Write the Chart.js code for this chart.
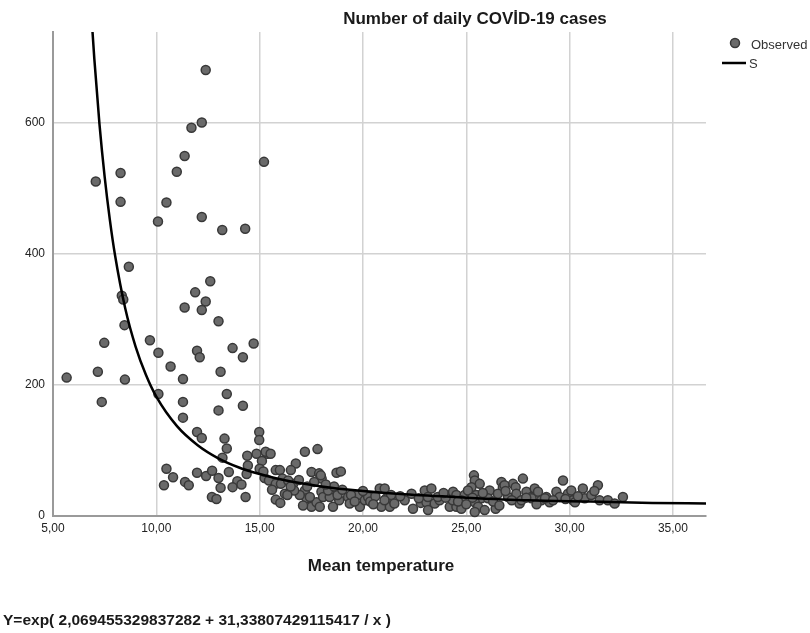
<!DOCTYPE html>
<html><head><meta charset="utf-8">
<script src="https://cdn.jsdelivr.net/npm/chart.js@4.4.0/dist/chart.umd.min.js"></script>
<style>html,body{margin:0;padding:0;background:#fff;overflow:hidden}#wrap{width:810px;height:633px;position:relative}</style>
</head><body><div id="wrap"><canvas id="c" width="810" height="633"></canvas></div>
<script>
const chartTitle = 'Number of daily COVİD-19 cases';
const xAxisTitle = 'Mean temperature';
const equationText = 'Y=exp( 2,069455329837282 + 31,33807429115417 / x )';
const legendLabels = ['Observed', 'S'];
const xTickValues = [5, 10, 15, 20, 25, 30, 35];
const yTickValues = [0, 200, 400, 600];

const obsTemp = [
 12.39,12.20,11.70,11.37,10.99,15.21,8.27,7.07,8.27,10.49,10.08,12.20,13.19,14.30,8.67,12.61,11.88,12.39,12.20,11.37,
 8.33,8.40,8.46,13.01,7.48,9.69,10.10,11.97,12.10,13.69,14.71,14.19,10.69,13.11,5.66,7.17,8.48,11.29,7.36,10.10,
 11.29,13.41,13.01,14.19,11.29,11.97,12.20,13.30,13.41,14.98,14.98,13.20,14.40,14.85,15.37,15.11,14.43,15.00,10.49,10.81,
 10.37,11.39,11.57,11.97,12.41,12.70,13.01,13.11,12.69,12.91,13.51,13.92,13.69,14.12,14.32,14.37,15.24,15.18,15.45,
 15.29,15.53,17.19,17.80,16.75,16.51,15.78,17.51,17.88,18.00,18.72,18.93,15.98,16.11,16.62,16.22,17.19,17.27,17.51,17.75,
 17.91,17.99,18.07,18.39,18.31,18.55,18.80,18.85,19.28,19.36,19.76,19.85,20.09,20.25,20.81,21.05,21.14,20.89,21.30,21.46,
 22.02,22.35,22.42,16.94,17.43,17.10,15.78,16.03,15.78,16.38,17.64,16.67,16.34,18.77,19.42,20.35,21.36,21.04,21.52,17.96,
 16.50,16.90,17.30,18.60,19.00,19.60,20.60,20.50,21.80,22.80,15.60,16.00,18.20,20.00,
 22.99,23.31,23.07,23.15,23.47,23.71,23.62,23.14,24.36,24.52,24.20,24.52,24.76,24.92,25.16,25.37,25.41,25.65,25.25,25.49,
 25.73,25.41,25.57,25.41,25.89,26.13,26.05,26.42,26.70,26.77,26.53,27.02,27.26,27.39,27.42,27.74,27.58,27.91,28.15,28.31,
 28.47,28.63,28.87,29.03,29.36,29.52,29.68,29.92,30.08,30.16,30.64,30.73,31.05,31.37,31.45,31.85,32.18,32.58,24.34,24.76,
 25.08,26.85,27.67,28.16,28.81,29.20,30.26,24.00,24.60,25.00,25.30,25.80,26.30,26.60,26.90,27.20,27.90,28.40,29.80,30.40,
 31.20,22.70,23.90
];
const obsCases = [
 680,600,592,549,525,540,523,510,479,478,449,456,436,438,380,358,341,327,314,318,
 336,330,291,297,264,268,249,252,242,256,263,242,228,220,211,220,208,209,174,186,
 174,186,161,168,150,128,119,118,103,128,116,89,92,95,95,84,77,72,72,59,
 47,52,47,66,61,69,58,43,29,26,67,53,44,48,29,64,58,68,54,
 98,95,98,102,80,70,70,67,65,57,66,68,70,57,49,34,39,27,14,21,
 14,37,29,29,39,14,37,24,29,19,32,14,24,29,42,42,27,14,14,24,
 24,34,11,32,29,16,49,49,25,54,52,39,32,32,32,22,32,24,19,62,
 45,55,45,45,40,22,30,18,30,20,40,20,48,38,
 39,42,21,9,19,24,29,29,37,32,14,14,11,32,37,62,54,49,44,32,
 27,21,14,6,9,39,27,11,52,44,34,29,49,44,34,57,19,37,29,42,
 37,24,29,21,37,29,54,34,39,24,42,27,32,47,24,24,19,29,24,24,
 39,47,24,27,27,24,21,28,22,18,28,35,22,16,38,24,28,18,26,30,
 38,27,35
];

// Fitted "S" curve values
const fitTemp  = [6.85, 7.00, 7.25, 7.50, 7.75, 8.00, 8.50, 9.00, 9.50, 10.0, 11.0, 12.0, 13.0, 14.0, 15.0, 16.0, 18.0, 20.0, 22.0, 25.0, 28.0, 31.0, 34.0, 36.6];
const fitCases = [768, 697, 597, 517, 452, 398, 316, 258, 215, 182, 137, 108, 88, 74, 64, 56, 45, 38, 33, 28, 24, 22, 20, 19];

const FONT = '"Liberation Sans", Arial, sans-serif';
const fmtX = v => Number(v).toFixed(2).replace('.', ',');

const obsPoints = obsTemp.map((t, i) => ({x: t, y: obsCases[i]}));
const fitPoints = fitTemp.map((t, i) => ({x: t, y: fitCases[i]}));

const textPlugin = {
  id: 'texts',
  afterDraw(chart) {
    const ctx = chart.ctx;
    ctx.save();
    ctx.fillStyle = '#1a1a1a';
    ctx.textBaseline = 'middle';
    ctx.textAlign = 'center';
    ctx.font = 'bold 17px ' + FONT;
    ctx.fillText(chartTitle, 475, 19);
    ctx.fillText(xAxisTitle, 381, 566);
    ctx.textAlign = 'left';
    ctx.font = 'bold 15.5px ' + FONT;
    ctx.fillText(equationText, 3, 621);
    // legend
    ctx.beginPath();
    ctx.arc(735, 43, 4.5, 0, Math.PI * 2);
    ctx.fillStyle = '#6a6a6a';
    ctx.fill();
    ctx.lineWidth = 1.5;
    ctx.strokeStyle = '#383838';
    ctx.stroke();
    ctx.beginPath();
    ctx.moveTo(722, 63);
    ctx.lineTo(746, 63);
    ctx.lineWidth = 2.5;
    ctx.strokeStyle = '#000';
    ctx.stroke();
    ctx.fillStyle = '#333';
    ctx.font = '13px ' + FONT;
    ctx.fillText(legendLabels[0], 751, 45);
    ctx.fillText(legendLabels[1], 749, 64);
    ctx.restore();
  }
};

new Chart(document.getElementById('c'), {
  type: 'scatter',
  data: {
    datasets: [
      {
        label: legendLabels[1],
        data: fitPoints,
        showLine: true,
        pointRadius: 0,
        borderColor: '#000',
        borderWidth: 2.5,
        cubicInterpolationMode: 'monotone',
        fill: false
      },
      {
        label: legendLabels[0],
        data: obsPoints,
        pointRadius: 4.5,
        pointBackgroundColor: '#6a6a6a',
        pointBorderColor: '#383838',
        pointBorderWidth: 1.5,
        clip: false
      }
    ]
  },
  options: {
    responsive: false,
    animation: false,
    devicePixelRatio: 1,
    layout: {padding: {top: 32, right: 104, left: 0, bottom: 0}},
    plugins: {legend: {display: false}, tooltip: {enabled: false}, title: {display: false}},
    scales: {
      x: {
        type: 'linear', min: 5, max: 36.6,
        afterBuildTicks: s => { s.ticks = xTickValues.map(v => ({value: v})); },
        afterFit: s => { s.height = 117; },
        ticks: {callback: v => fmtX(v), font: {family: FONT, size: 12}, color: '#222', padding: 5, maxRotation: 0, autoSkip: false},
        grid: {color: '#d2d2d2', lineWidth: 1.5, drawTicks: false},
        border: {color: '#9a9a9a', width: 2}
      },
      y: {
        type: 'linear', min: 0, max: 738,
        afterBuildTicks: s => { s.ticks = yTickValues.map(v => ({value: v})); },
        afterFit: s => { s.width = 53; },
        ticks: {callback: v => String(v), font: {family: FONT, size: 12}, color: '#222', padding: 8},
        grid: {color: '#d2d2d2', lineWidth: 1.5, drawTicks: false},
        border: {color: '#9a9a9a', width: 2}
      }
    }
  },
  plugins: [textPlugin]
});
</script></body></html>
